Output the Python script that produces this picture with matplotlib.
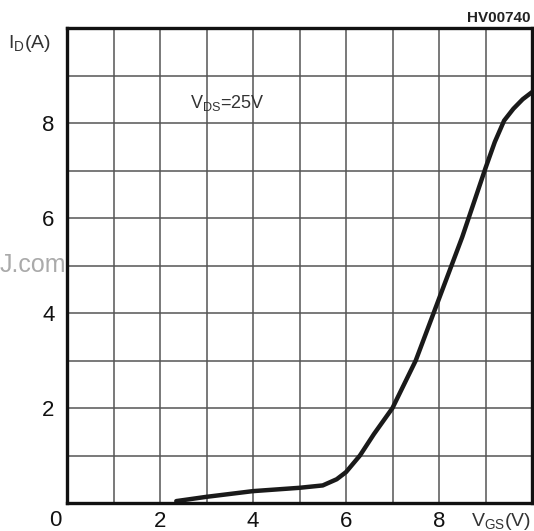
import matplotlib
matplotlib.use("Agg")
from matplotlib import pyplot as plt

# transfer curve
vgs = [2.35, 3.0, 4.0, 5.0, 5.5, 5.8, 6.0, 6.3, 6.6, 7.0, 7.5, 8.0, 8.5, 9.0, 9.2, 9.4, 9.6, 9.8, 10.0]
i_d = [0.04, 0.13, 0.25, 0.32, 0.37, 0.5, 0.65, 1.0, 1.45, 2.0, 3.0, 4.3, 5.6, 7.05, 7.6, 8.05, 8.3, 8.5, 8.65]

x_ticks = [2, 4, 6, 8]
y_ticks = [2, 4, 6, 8]

plt.rcParams['font.family'] = ['Liberation Sans', 'DejaVu Sans']
plt.rcParams['mathtext.fontset'] = 'custom'
plt.rcParams['mathtext.rm'] = 'Liberation Sans'

W, H = 534, 531
fig = plt.figure(figsize=(W / 100, H / 100), dpi=100)
ax = fig.add_axes([67 / W, 28 / H, 465 / W, 475 / H])

ax.set_xlim(0, 10)
ax.set_ylim(0, 10)
ax.set_xticks(range(0, 11))
ax.set_yticks(range(0, 11))
ax.set_xticklabels([str(t) if t in x_ticks else "" for t in range(0, 11)])
ax.set_yticklabels([str(t) if t in y_ticks else "" for t in range(0, 11)])
ax.tick_params(length=0, labelsize=16, colors="#111111")
ax.tick_params(axis="x", pad=6)
ax.tick_params(axis="y", pad=9)
ax.grid(True, color="#555555", linewidth=1.1)
for s in ax.spines.values():
    s.set_linewidth(2.4)
    s.set_color("#111111")

ax.plot(vgs, i_d, color="#1a1a1a", linewidth=3.2, solid_capstyle="round",
        solid_joinstyle="round", clip_on=False)

# labels
fig.text(55 / W, 1 - 521 / H, "0", ha="center", va="center", fontsize=16,
         color="#111111")
fig.text(531 / W, 1 - 521 / H, r"V$_\mathrm{GS}$(V)", ha="right", va="center",
         fontsize=14, color="#333333")
fig.text(8 / W, 1 - 44 / H, r"I$_\mathrm{D}$(A)", ha="left", va="center",
         fontsize=14, color="#333333")
fig.text(190 / W, 1 - 103 / H, r"V$_\mathrm{DS}$=25V", ha="left", va="center",
         fontsize=13, color="#333333")
fig.text(531 / W, 1 - 18 / H, "HV00740", ha="right", va="center",
         fontsize=11, fontweight="bold", color="#222222")
fig.text(66 / W, 1 - 265 / H, "J.com", ha="right", va="center",
         fontsize=18, color="#aaaaaa", zorder=0)

fig.savefig("out.png", dpi=100)
